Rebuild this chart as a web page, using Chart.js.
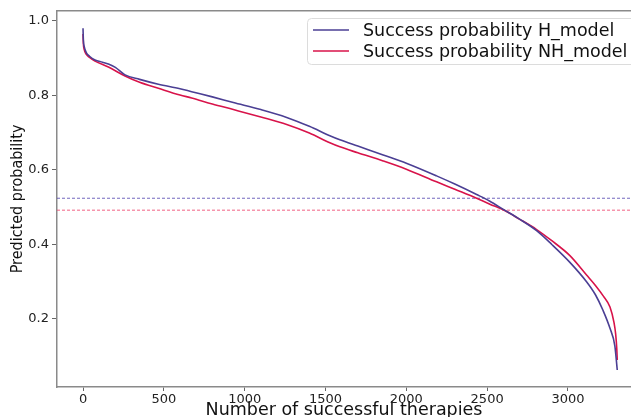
<!DOCTYPE html>
<html>
<head>
<meta charset="utf-8">
<title>Predicted probability</title>
<script src="https://cdn.jsdelivr.net/npm/chart.js@4/dist/chart.umd.min.js"></script>
<style>
    html, body { margin: 0; padding: 0; background: #ffffff; }
    #wrap { width: 631px; height: 417px; }
</style>
</head>
<body>
<div id="wrap"><canvas id="probChart" width="631" height="417"></canvas></div>
<script>
// values
const xTicks = [0, 500, 1000, 1500, 2000, 2500, 3000];
const yTicks = [0.2, 0.4, 0.6, 0.8, 1.0];

const seriesLabels = ['Success probability H_model', 'Success probability NH_model'];

const hModelX = [0, 2, 8, 20, 40, 74, 120, 157, 200, 260, 350, 466, 600, 672, 800, 930, 1100, 1260, 1400, 1527, 1589, 1700, 1857, 2000, 2187, 2300, 2435, 2517, 2600, 2700, 2806, 2900, 3012, 3115, 3170, 3218, 3260, 3290, 3305];
const hModelY = [0.980, 0.950, 0.930, 0.915, 0.905, 0.895, 0.889, 0.884, 0.875, 0.855, 0.843, 0.830, 0.818, 0.810, 0.796, 0.781, 0.762, 0.741, 0.717, 0.692, 0.681, 0.664, 0.640, 0.618, 0.584, 0.562, 0.534, 0.516, 0.494, 0.468, 0.437, 0.400, 0.352, 0.300, 0.265, 0.222, 0.175, 0.128, 0.063];

const nhModelX = [0, 2, 8, 20, 40, 74, 157, 260, 350, 466, 600, 672, 800, 930, 1100, 1260, 1400, 1527, 1589, 1700, 1857, 2000, 2187, 2300, 2435, 2517, 2600, 2700, 2806, 2900, 3012, 3115, 3170, 3218, 3260, 3285, 3295, 3302, 3305];
const nhModelY = [0.965, 0.940, 0.922, 0.910, 0.902, 0.892, 0.876, 0.852, 0.835, 0.819, 0.801, 0.793, 0.777, 0.762, 0.742, 0.722, 0.699, 0.673, 0.662, 0.646, 0.624, 0.602, 0.568, 0.548, 0.524, 0.508, 0.493, 0.468, 0.440, 0.410, 0.370, 0.318, 0.290, 0.262, 0.232, 0.190, 0.160, 0.120, 0.090];

const hThreshold = 0.524;
const nhThreshold = 0.492;

const xRange = [-161, 3390];
const yRange = [0.0175, 1.027];

const H_COLOR = '#4b3f94';
const NH_COLOR = '#d8134a';

function toPoints(xs, ys) {
    return xs.map((x, i) => ({ x: x, y: ys[i] }));
}

// top spine (the right one is cut off in the reference)
const topSpine = {
    id: 'topSpine',
    afterDraw(chart) {
        const { ctx, chartArea } = chart;
        ctx.save();
        ctx.strokeStyle = '#8a8a8a';
        ctx.lineWidth = 1.5;
        ctx.beginPath();
        ctx.moveTo(chartArea.left, chartArea.top);
        ctx.lineTo(chartArea.right, chartArea.top);
        ctx.stroke();
        ctx.restore();
    }
};

// matplotlib style legend box inside the plot
const boxLegend = {
    id: 'boxLegend',
    afterDraw(chart) {
        const ctx = chart.ctx;
        const left = 307, top = 18, w = 345, h = 46;
        ctx.save();
        ctx.fillStyle = 'rgba(255,255,255,0.85)';
        ctx.strokeStyle = '#dcdcdc';
        ctx.lineWidth = 1;
        ctx.beginPath();
        ctx.roundRect(left + 0.5, top + 0.5, w, h, 4);
        ctx.fill();
        ctx.stroke();

        const colors = [H_COLOR, NH_COLOR];
        ctx.font = '17.5px "DejaVu Sans"';
        ctx.textBaseline = 'middle';
        ctx.fillStyle = '#111';
        seriesLabels.forEach((lbl, i) => {
            const y = 30 + i * 21;
            ctx.strokeStyle = colors[i];
            ctx.lineWidth = 1.6;
            ctx.beginPath();
            ctx.moveTo(313, y);
            ctx.lineTo(349, y);
            ctx.stroke();
            ctx.fillText(lbl, 363, y + 1);
        });
        ctx.restore();
    }
};

document.addEventListener('DOMContentLoaded', () => {
    Chart.defaults.font.family = '"DejaVu Sans", sans-serif';
    Chart.defaults.color = '#222';

    const ctx = document.getElementById('probChart');
    new Chart(ctx, {
        type: 'line',
        data: {
            datasets: [
                {
                    label: seriesLabels[0],
                    data: toPoints(hModelX, hModelY),
                    borderColor: H_COLOR,
                    borderWidth: 1.6,
                    pointRadius: 0,
                    cubicInterpolationMode: 'monotone',
                    fill: false
                },
                {
                    label: seriesLabels[1],
                    data: toPoints(nhModelX, nhModelY),
                    borderColor: NH_COLOR,
                    borderWidth: 1.6,
                    pointRadius: 0,
                    cubicInterpolationMode: 'monotone',
                    fill: false
                },
                {
                    label: 'H threshold',
                    data: toPoints(xRange, [hThreshold, hThreshold]),
                    borderColor: 'rgba(90,75,180,0.85)',
                    borderWidth: 1,
                    borderDash: [3, 2],
                    pointRadius: 0
                },
                {
                    label: 'NH threshold',
                    data: toPoints(xRange, [nhThreshold, nhThreshold]),
                    borderColor: 'rgba(240,70,110,0.85)',
                    borderWidth: 1,
                    borderDash: [3, 2],
                    pointRadius: 0
                }
            ]
        },
        options: {
            responsive: false,
            devicePixelRatio: 1,
            animation: false,
            layout: { padding: 0 },
            plugins: {
                legend: { display: false },
                tooltip: { enabled: false }
            },
            scales: {
                x: {
                    type: 'linear',
                    min: xRange[0],
                    max: xRange[1],
                    afterBuildTicks: s => { s.ticks = xTicks.map(v => ({ value: v })); },
                    afterFit: s => { s.height = 30; },
                    grid: { drawOnChartArea: false, tickLength: 4, color: '#666', tickWidth: 1 },
                    border: { color: '#8a8a8a', width: 1.5 },
                    ticks: { font: { size: 13 }, padding: 1, maxRotation: 0, color: '#222', callback: v => String(v) },
                    title: {
                        display: true,
                        text: 'Number of successful therapies',
                        font: { size: 17.5, lineHeight: 0.8 },
                        padding: 0,
                        color: '#111'
                    }
                },
                y: {
                    type: 'linear',
                    min: yRange[0],
                    max: yRange[1],
                    afterBuildTicks: s => { s.ticks = yTicks.map(v => ({ value: v })); },
                    afterFit: s => { s.width = 57; },
                    grid: { drawOnChartArea: false, tickLength: 5, color: '#666', tickWidth: 1 },
                    border: { color: '#8a8a8a', width: 1.5 },
                    ticks: {
                        font: { size: 13 },
                        padding: 3,
                        color: '#222',
                        callback: v => v.toFixed(1)
                    },
                    title: {
                        display: true,
                        text: 'Predicted probability',
                        font: { family: '"Liberation Sans Narrow", "DejaVu Sans Condensed", sans-serif', size: 16, lineHeight: 1.2 },
                        padding: { top: 8.5, bottom: 0 },
                        color: '#111'
                    }
                }
            }
        },
        plugins: [topSpine, boxLegend]
    });
});
</script>
</body>
</html>
